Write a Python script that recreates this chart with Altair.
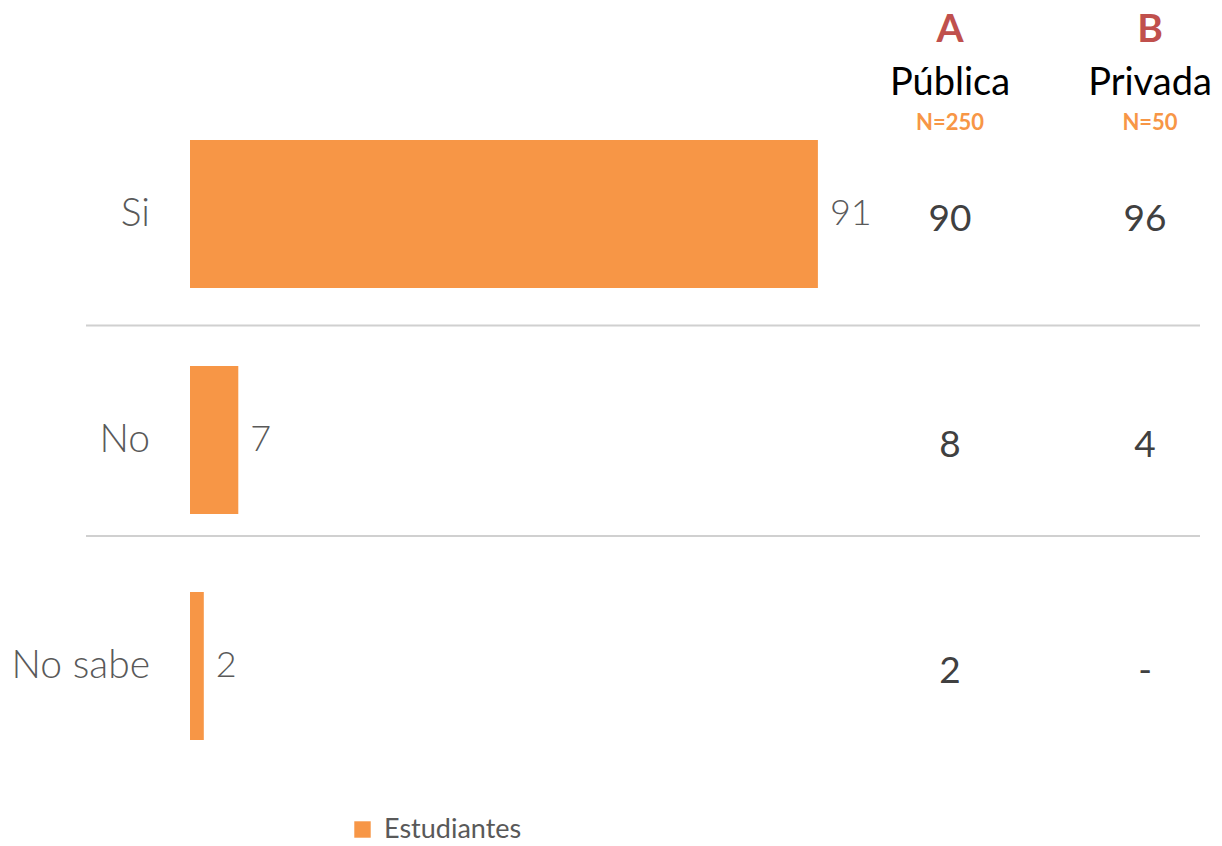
import altair as alt
import pandas as pd

categorias = ["Si", "No", "No sabe"]
estudiantes = [91, 7, 2]
publica = ["90", "8", "2"]
privada = ["96", "4", "-"]
serie = "Estudiantes"
col_letras = ["A", "B"]
col_nombres = ["Pública", "Privada"]
col_n = ["N=250", "N=50"]

FONT = "Lato"
ORANGE = "#F79646"
GRAY = "#595959"
DARK = "#404040"
RED = "#C0504D"

df = pd.DataFrame({
    "cat": categorias,
    "valor": estudiantes,
    "pub": publica,
    "priv": privada,
    "serie": [serie] * len(categorias),
})

xs = alt.Scale(domain=[0, 100], range=[182, 872])
ys = alt.Scale(domain=categorias, range=[93, 771], paddingInner=0.345, paddingOuter=0.1725)

base = alt.Chart(df)
X = alt.X("valor:Q", scale=xs, axis=None)

def Yc(bp=0.5):
    return alt.Y("cat:N", scale=ys, axis=None, sort=categorias, bandPosition=bp)

bars = base.mark_bar(size=148).encode(
    x=X,
    y=alt.Y("cat:N", scale=ys, axis=None, sort=categorias),
    color=alt.Color(
        "serie:N",
        scale=alt.Scale(domain=[serie], range=[ORANGE]),
        legend=alt.Legend(
            orient="none", legendX=341, legendY=808, title=None,
            symbolType="square", symbolSize=270, symbolStrokeWidth=0,
            labelFontSize=27, labelFont=FONT, labelColor=GRAY, labelOffset=8,
            padding=0,
        ),
    ),
)

val_labels = base.mark_text(
    align="left", baseline="middle", dx=12, fontSize=36, font=FONT,
    fontWeight=300, color=GRAY,
).encode(x=X, y=Yc(), text="valor:Q")

cat_labels = base.mark_text(
    align="right", baseline="middle", fontSize=39, font=FONT,
    fontWeight=300, color=GRAY,
).encode(x=alt.value(142), y=Yc(), text="cat:N")

pub_labels = base.mark_text(
    align="center", baseline="middle", dy=6, fontSize=37, font=FONT, color=DARK,
).encode(x=alt.value(942), y=Yc(), text="pub:N")

priv_labels = base.mark_text(
    align="center", baseline="middle", dy=6, fontSize=37, font=FONT, color=DARK,
).encode(x=alt.value(1137), y=Yc(), text="priv:N")

sep1 = alt.Chart(pd.DataFrame({"cat": [categorias[1]]})).mark_rule(
    color="#D0D0D0", strokeWidth=2, yOffset=-40.5
).encode(y=Yc(0), x=alt.value(78), x2=alt.value(1192))

sep2 = alt.Chart(pd.DataFrame({"cat": [categorias[2]]})).mark_rule(
    color="#D0D0D0", strokeWidth=2, yOffset=-56
).encode(y=Yc(0), x=alt.value(78), x2=alt.value(1192))

hdr = pd.DataFrame({"letra": col_letras, "nombre": col_nombres, "n": col_n})
hA = alt.Chart(hdr.iloc[[0]])
hB = alt.Chart(hdr.iloc[[1]])

def header(ch, xpos):
    letra = ch.mark_text(align="center", baseline="alphabetic", fontSize=39, font=FONT,
                         fontWeight="bold", color=RED).encode(x=alt.value(xpos), y=alt.value(34), text="letra:N")
    nombre = ch.mark_text(align="center", baseline="alphabetic", fontSize=38, font=FONT,
                          color="#000000").encode(x=alt.value(xpos), y=alt.value(87), text="nombre:N")
    n = ch.mark_text(align="center", baseline="alphabetic", fontSize=22, font=FONT,
                     fontWeight="bold", color=ORANGE).encode(x=alt.value(xpos), y=alt.value(122), text="n:N")
    return letra + nombre + n

chart = alt.layer(
    sep1, sep2, bars, val_labels, cat_labels, pub_labels, priv_labels,
    header(hA, 942), header(hB, 1142),
).properties(
    width=1206, height=830,
    autosize=alt.AutoSizeParams(type="none"),
    padding=0,
).configure_view(stroke=None)

chart.save("out.html", embed_options={"renderer": "svg", "actions": False})
